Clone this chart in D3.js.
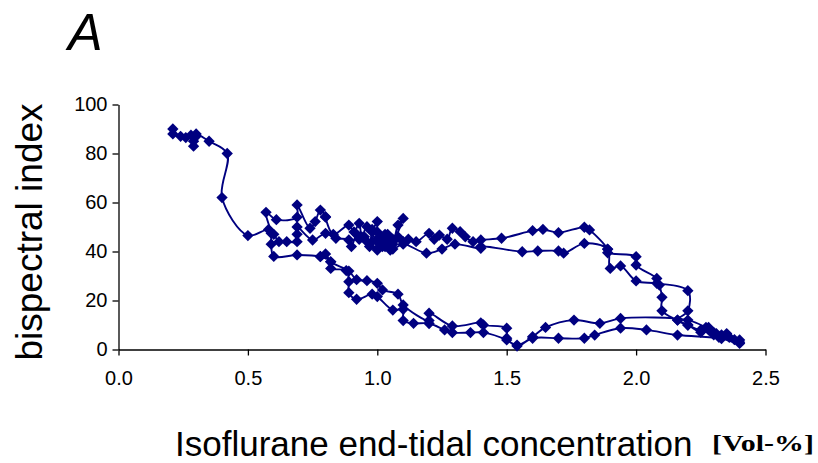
<!DOCTYPE html>
<html><head><meta charset="utf-8">
<script src="https://cdn.jsdelivr.net/npm/d3@7"></script>
<style>body{margin:0;background:#fff}svg{display:block}text{font-family:"Liberation Sans",Arial,sans-serif}</style>
</head><body>
<svg id="c" width="818" height="463"></svg>
<script>
const xTicks = [0, 0.5, 1.0, 1.5, 2.0, 2.5];
const yTicks = [0, 20, 40, 60, 80, 100];
// isoflurane end-tidal concentration [Vol-%] (sequence in time)
const iso = [
 0.21,0.21,0.24,0.26,0.28,0.29,0.29,0.30,0.30,0.35,0.42,0.40,0.50,
 0.58,0.60,0.62,0.65,0.69,0.69,0.69,0.75,0.80,0.84,0.89,0.90,0.92,0.93,0.95,0.96,0.97,0.98,1.00,1.00,1.01,1.02,1.03,1.04,1.05,1.06,1.08,1.10,1.12,1.15,
 1.20,1.22,1.24,1.27,1.29,1.32,1.34,1.37,1.40,1.48,1.60,1.64,1.70,1.80,1.82,1.89,1.89,2.00,2.00,2.08,2.09,2.10,2.10,
 2.16,2.20,2.25,2.28,2.30,2.33,2.36,2.40,2.40,
 2.33,2.16,2.04,1.94,1.84,1.80,1.70,1.60,1.54,1.50,1.41,1.36,1.29,1.26,1.20,1.14,1.10,1.10,1.06,
 1.00,0.98,0.92,0.89,0.89,0.88,0.82,0.82,0.78,0.69,0.60,0.59,0.59,0.57,0.61,0.69,0.69,
 0.74,0.76,0.78,0.80,0.80,0.83,0.89,0.91,0.93,0.94,0.96,0.98,1.00,1.00,1.02,1.04,1.06,1.08,1.10,1.06,1.05,1.03,1.00,0.98,1.02,1.06,1.10,1.19,
 1.25,1.30,1.40,1.40,1.56,1.62,1.70,1.72,1.80,1.89,1.90,1.94,2.00,2.08,2.20,2.20,2.16,2.20,
 2.25,2.28,2.30,2.32,2.35,2.38,2.40,
 2.31,2.27,2.20,1.94,1.86,1.76,1.65,1.60,1.54,1.50,1.50,1.41,1.40,1.29,1.20,1.20,1.10,1.08,1.02,1.00,
 0.96,0.92,0.89,0.82,0.80,0.78
];
// bispectral index
const bis = [
 90,88,87,86.5,87.5,85,83,87,88,85,80,62,46.5,
 49,47,44,44,44,47,50,44.7,47.4,45.4,44.7,42,47,45,46,44,42,48,41,45,46,43,47,42,44,45,46,44,45,44,
 47.4,45,46.7,45,49.5,48.1,46,44,44.7,45.4,48.5,49,47.7,49.9,48.8,40.9,39.5,37.9,34.5,29,26.3,21.3,15.8,
 12,10,8,9,7,6,5,3.9,2.5,
 4.5,5.9,8,8.7,5.9,4.6,4.6,4.6,1.4,3.9,6.9,6.9,6.9,8,10.6,10.7,11.8,16.4,16.1,
 21.6,22.6,20.5,23.2,27.7,32.2,33.1,35.8,37.9,38.6,38,43,47.4,56,53,54,59,
 49.5,52.2,56.9,54.2,54,47,50.8,48,51.5,46,50.1,49,52.2,48,45,47,44,50.8,53.5,43,40.6,42,40.6,44,42,41,43,39.3,
 41,43,41.3,42,39.9,40.2,40.2,39.3,43.3,41,33.1,34.1,28,27,24,15.8,12,10,
 7,8,6,5,6.5,4,3,
 6.5,9,12,12.7,10.7,12,9,5.2,1.8,4.6,8.7,10,10.9,9.6,14.8,11.8,18.2,22.6,24.3,27,
 28.1,28.5,32,35.8,39,38
];

const svg = d3.select("#c");
const x = d3.scaleLinear().domain([0, 2.5]).range([118.5, 765.5]);
const y = d3.scaleLinear().domain([0, 100]).range([349.5, 104.5]);

const xAxis = svg.append("g").attr("transform","translate(0,349.5)")
  .call(d3.axisBottom(x).tickValues(xTicks).tickSize(6).tickSizeOuter(0).tickFormat(d3.format(".1f")));
const yAxis = svg.append("g").attr("transform","translate(118.5,0)")
  .call(d3.axisLeft(y).tickValues(yTicks).tickSize(6).tickSizeOuter(0));
[xAxis, yAxis].forEach(a => {
  a.select(".domain").attr("stroke","#000").attr("stroke-width",1.3);
  a.selectAll(".tick line").attr("stroke","#000").attr("stroke-width",1.3);
  a.selectAll(".tick text").attr("fill","#000").style("font-size","20px").style("font-family","'Liberation Sans',Arial,sans-serif");
});
xAxis.selectAll(".tick text").attr("dy", "1.3em");
yAxis.selectAll(".tick text").attr("x", -11);

const pts = iso.map((v,i)=>[v, bis[i]]);
const line = d3.line().x(d=>x(d[0])).y(d=>y(d[1])).curve(d3.curveCatmullRom.alpha(0.5));
svg.append("path").attr("d", line(pts)).attr("fill","none").attr("stroke","#000080").attr("stroke-width",1.9);
svg.append("g").selectAll("path").data(pts).join("path")
  .attr("transform", d=>`translate(${x(d[0])},${y(d[1])}) rotate(45)`)
  .attr("d", d3.symbol().type(d3.symbolSquare).size(64))
  .attr("fill","#000080");

svg.append("text").attr("x",68).attr("y",50).style("font-size","52px").style("font-style","italic").text("A");
svg.append("text").attr("transform","translate(42,232) rotate(-90)").attr("text-anchor","middle")
  .style("font-size","37px").text("bispectral index");
svg.append("text").attr("x",175).attr("y",456).style("font-size","35px").text("Isoflurane end-tidal concentration");
svg.append("text").attr("x",712).attr("y",451).style("font-size","24px").style("font-weight","bold")
  .attr("textLength",102).attr("lengthAdjust","spacingAndGlyphs")
  .style("font-family","'Liberation Serif','Times New Roman',serif").text("[Vol-%]");
</script>
</body></html>
